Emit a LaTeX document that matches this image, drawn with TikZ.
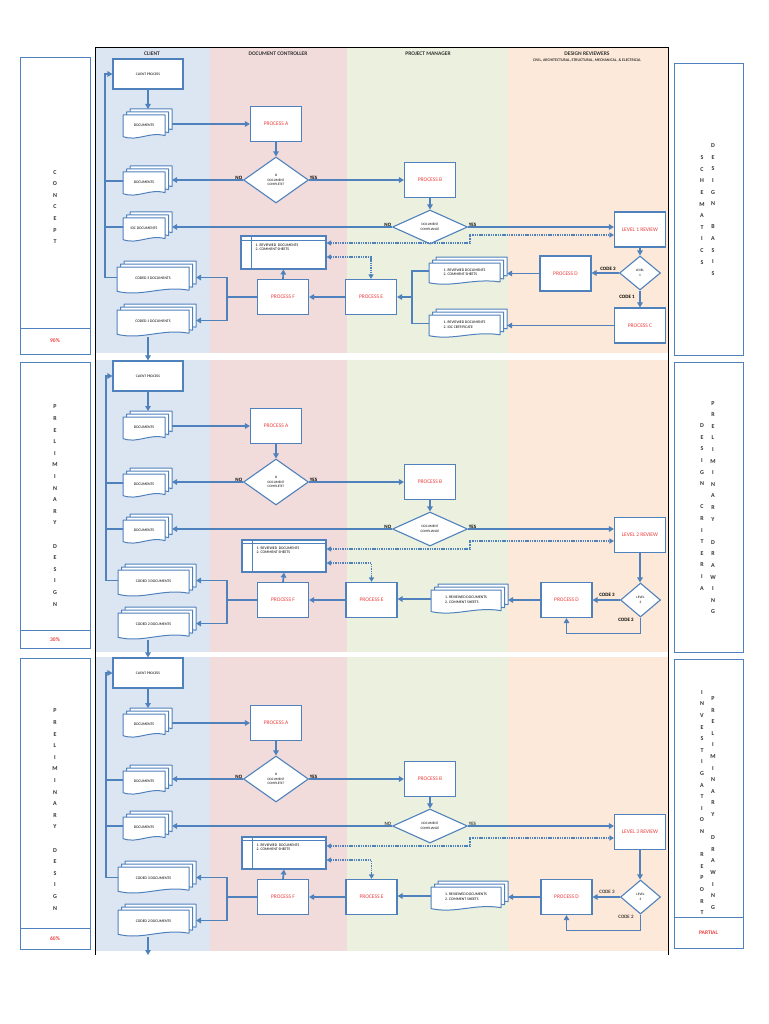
\documentclass[tikz,border=0pt]{standalone}
\usepackage{fontspec}
\setmainfont{Carlito}
\usetikzlibrary{shapes.geometric,arrows.meta}
\definecolor{lblue}{HTML}{4F81BD}
\definecolor{cclient}{HTML}{DCE6F2}
\definecolor{cdc}{HTML}{F2DCDB}
\definecolor{cpm}{HTML}{EBF1DE}
\definecolor{cdr}{HTML}{FDE9D9}
\definecolor{pred}{HTML}{F03C3C}
\definecolor{hgray}{HTML}{333333}

\newcommand\sheetshape[4]{%
  \filldraw[draw=lblue, fill=white, line width=1pt, line join=round]
   (#1,#2) -- ({#1+#3},#2) -- ({#1+#3},{#2+0.86*#4})
   .. controls ({#1+0.62*#3},{#2+0.68*#4}) and ({#1+0.35*#3},{#2+1.12*#4}) ..
   (#1,{#2+0.9*#4}) -- cycle;}
\newcommand\dstack[6]{%
  \sheetshape{#2+7}{#3}{#4}{#5}
  \sheetshape{#2+3.5}{#3+3}{#4}{#5}
  \sheetshape{#2}{#3+6}{#4}{#5}
  \node[inner sep=0, outer sep=0, minimum width={#4+7}, minimum height={#5+6}, anchor=north west] (#1) at (#2,#3) {};
  \node[doctext] (#1t) at ({#2+#4/2},{#3+6+0.42*#5}) {#6};}

\newcommand\upperpart[3]{%
  \node[cbox] (#1cp) at (148,376) {CLIENT PROCESS};
  \dstack{#1d1}{123}{411}{42}{24}{DOCUMENTS}
  \node[pbox] (#1pa) at (276,426) {PROCESS A};
  \node[dia, minimum width=65, minimum height=46] (#1q1) at (276,482) {IS\\DOCUMENT\\COMPLETE?};
  \dstack{#1d2}{123}{468}{42}{24}{DOCUMENTS}
  \node[pbox] (#1pb) at (430,482) {PROCESS B};
  \node[dia, minimum width=75, minimum height=34] (#1q2) at (430,529) {DOCUMENT\\COMPLIANCE};
  \dstack{#1d3}{123}{514}{42}{24}{#2}
  \draw[arr] (#1cp.south) -- (#1cp.south |- #1d1.north);
  \draw[arr] (#1d1.east) -- (#1d1.east -| #1pa.west);
  \draw[arr] (#1pa.south) -- (#1q1.north);
  \draw[arr] (#1q1.west) -- (#1q1.west -| #1d2.east);
  \draw[arr] (#1q1.east) -- (#1pb.west);
  \draw[arr] (#1pb.south) -- (#1q2.north);
  \draw[arr] (#1q2.west) -- (#1q2.west -| #1d3.east);
  \node[lbl, font=\bfseries\fontsize{5}{6}\selectfont, anchor=south east] (#1no1) at (#1q1.west) {NO};
  \node[lbl, font=\bfseries\fontsize{5}{6}\selectfont, anchor=south west] (#1yes1) at (#1q1.east) {YES};
  \node[lbl, font=#3\fontsize{5}{6}\selectfont, anchor=south east] (#1no2) at (#1q2.west) {NO};
  \node[lbl, font=#3\fontsize{5}{6}\selectfont, anchor=south west] (#1yes2) at (#1q2.east) {YES};
}

\newcommand\lowerpart[4]{%
  \node[pbox] (#1rv) at (640,535) {#2};
  \node[shbox, minimum width=84, minimum height=32] (#1sh) at (284,556) {};
  \draw[lblue, line width=0.9pt] ([xshift=11pt]#1sh.north west) -- ([xshift=11pt]#1sh.south west);
  \draw[lblue, line width=0.9pt] ([yshift=-4pt]#1sh.north west) -- ([yshift=-4pt]#1sh.north east);
  \node[doctext, anchor=north west] (#1sht) at ([xshift=15pt,yshift=-7pt]#1sh.north west) {1. REVIEWED\ \ DOCUMENTS\\2. COMMENT SHEETS};
  \node[pbox] (#1pf) at (283,600) {PROCESS F};
  \node[pbox] (#1pe) at (371.5,600) {PROCESS E};
  \dstack{#1rs}{431}{584}{70}{24}{1. REVIEWED DOCUMENTS\\2. COMMENT SHEETS}
  \node[pbox] (#1pd) at (566.5,600) {PROCESS D};
  \node[dia, minimum width=40, minimum height=34] (#1lv) at (640.5,600) {LEVEL\\#3};
  \dstack{#1c3}{118}{564}{71}{27}{CODED 3 DOCUMENTS}
  \dstack{#1c2}{118}{607}{71}{27}{CODED 2 DOCUMENTS}
  \coordinate (#1fb) at (106,0);
  \coordinate (#1jx) at (227,0);
  \coordinate (#1k1) at (470,549);
  \coordinate (#1k2) at (470,541);
  \coordinate (#1k3) at (371.5,563);
  \draw[arr] (#1q2.east) -- (#1q2.east -| #1rv.west);
  \draw[dotarr] (#1k1 -| #1sh.east) -- (#1k1) -- (#1k2) -- (#1k2 -| #1rv.west);
  \draw[dotarr] (#1k3 -| #1sh.east) -- (#1k3) -- (#1pe.north);
  \draw[arr] (#1rv.south) -- (#1rv.south |- #1lv.north);
  \draw[arr] (#1lv.west) -- (#1pd.east);
  \draw[arr] (#1lv.south) -- ++(0,16) -| (#1pd.south);
  \node[lbl, font=#4\fontsize{5}{6}\selectfont] (#1cd3) at (607,595) {CODE 3};
  \node[lbl, font=#4\fontsize{5}{6}\selectfont] (#1cd2) at (626,620) {CODE 2};
  \draw[arr] (#1pd.west) -- (#1pd.west -| #1rs.east);
  \draw[arr] (#1rs.west) -- (#1rs.west -| #1pe.east);
  \draw[arr] (#1pe.west) -- (#1pf.east);
  \draw[arr] (#1pf.north) -- (#1sh.south);
  \draw[ln] (#1pf.west) -- (#1pf.west -| #1jx);
  \draw[arr] (#1pf.west -| #1jx) |- (#1c3.east);
  \draw[arr] (#1pf.west -| #1jx) |- (#1c2.east);
  \draw[arr] (#1c3.west) -- (#1c3.west -| #1fb) |- (#1cp.west);
  \draw[ln] (#1d2.west) -- (#1d2.west -| #1fb);
  \draw[ln] (#1d3.west) -- (#1d3.west -| #1fb);
}

\begin{document}
\begin{tikzpicture}[x=1pt,y=-1pt,
  cbox/.style={draw=lblue, line width=1.1pt, fill=white, minimum width=70, minimum height=30, inner sep=0, font=\fontsize{3.6}{4}\selectfont},
  pbox/.style={draw=lblue, line width=1.1pt, fill=white, minimum width=51, minimum height=35, inner sep=0, text=pred, font=\fontsize{5.5}{6}\selectfont},
  dia/.style={diamond, draw=lblue, line width=1.1pt, fill=white, inner sep=0, align=center, font=\fontsize{3.4}{4.4}\selectfont},
  shbox/.style={draw=lblue, line width=1.1pt, fill=white, inner sep=0},
  lbl/.style={inner sep=0.6pt},
  doctext/.style={font=\fontsize{3.8}{4.8}\selectfont, align=left, inner sep=0},
  arr/.style={draw=lblue, line width=1.7pt, -{Triangle[length=5pt,width=5.5pt]}},
  ln/.style={draw=lblue, line width=1.7pt},
  dotarr/.style={draw=lblue, line width=1.3pt, dash pattern=on 1.4pt off 0.9pt, {Triangle[length=4.5pt,width=5pt]}-{Triangle[length=4.5pt,width=5pt]}},
  side/.style={draw=lblue, line width=1pt, fill=white},
  vlet/.style={align=center, inner sep=0, font=\bfseries\fontsize{6}{11.6}\selectfont, text=hgray},
  pct/.style={inner sep=0, text=pred, font=\bfseries\fontsize{5.5}{6}\selectfont},
  hdr/.style={inner sep=0, text=hgray, font=\bfseries\fontsize{5.5}{6}\selectfont},
  hsub/.style={inner sep=0, text=hgray, font=\bfseries\fontsize{3.9}{4.5}\selectfont}]
\fill[white] (0,0) rectangle (768,1024);
\useasboundingbox (0,0) rectangle (768,1024);

% swimlane backgrounds
\foreach \ya/\yb in {48/353, 360/652, 657/951} {
  \fill[cclient] (95,\ya) rectangle (210,\yb);
  \fill[cdc] (210,\ya) rectangle (347,\yb);
  \fill[cpm] (347,\ya) rectangle (508,\yb);
  \fill[cdr] (508,\ya) rectangle (668,\yb);
}
\draw[black, line width=1pt] (95,955) -- (95,47.5) -- (668,47.5) -- (668,955);

% headers
\node[hdr] (hc) at (152,53.5) {CLIENT};
\node[hdr] (hd) at (278,53.5) {DOCUMENT CONTROLLER};
\node[hdr] (hp) at (428,53.5) {PROJECT MANAGER};
\node[hdr] (hr) at (587,53.5) {DESIGN REVIEWERS};
\node[hsub] (hs) at (587,60.5) {CIVIL, ARCHITECTURAL, STRUCTURAL, MECHANICAL, \& ELECTRICAL};

% side panels left
\draw[side] (20,58) rectangle (90,354); \draw[lblue, line width=1pt] (20,328) -- (90,328);
\draw[side] (20,362) rectangle (90,648); \draw[lblue, line width=1pt] (20,630) -- (90,630);
\draw[side] (20,658) rectangle (90,949); \draw[lblue, line width=1pt] (20,928) -- (90,928);
\node[vlet] (sl1) at (55,207) {C\\O\\N\\C\\E\\P\\T};
\node[vlet] (sl2) at (55,505.5) {P\\R\\E\\L\\I\\M\\I\\N\\A\\R\\Y\\~\\D\\E\\S\\I\\G\\N};
\node[vlet] (sl3) at (55,809.5) {P\\R\\E\\L\\I\\M\\I\\N\\A\\R\\Y\\~\\D\\E\\S\\I\\G\\N};
\node[pct] (p1) at (55,341) {90\%};
\node[pct] (p2) at (55,640) {30\%};
\node[pct] (p3) at (55,939) {60\%};

% side panels right
\draw[side] (674,64) rectangle (743,355);
\draw[side] (674,362) rectangle (743,652);
\draw[side] (674,659) rectangle (743,948); \draw[lblue, line width=1pt] (674,917) -- (743,917);
\node[vlet] (sr1a) at (702,210) {S\\C\\H\\E\\M\\A\\T\\I\\C\\S};
\node[vlet] (sr1b) at (713,209.5) {D\\E\\S\\I\\G\\N\\~\\B\\A\\S\\I\\S};
\node[vlet] (sr2a) at (702,507) {D\\E\\S\\I\\G\\N\\~\\C\\R\\I\\T\\E\\R\\I\\A};
\node[vlet] (sr2b) at (713,507.5) {P\\R\\E\\L\\I\\M\\I\\N\\A\\R\\Y\\~\\D\\R\\A\\W\\I\\N\\G};
\node[vlet] (sr3a) at (702,802.5) {I\\N\\V\\E\\S\\T\\I\\G\\A\\T\\I\\O\\N\\~\\R\\E\\P\\O\\R\\T};
\node[vlet] (sr3b) at (713,803) {P\\R\\E\\L\\I\\M\\I\\N\\A\\R\\Y\\~\\D\\R\\A\\W\\I\\N\\G};
\node[pct] (p4) at (708.5,933) {PARTIAL};

% ---------- band 1 ----------
\begin{scope}[shift={(0,-302)}]
  \upperpart{a}{IDC DOCUMENTS}{\bfseries}
\end{scope}
\node[pbox] (arv) at (640,229.5) {LEVEL 1 REVIEW};
\node[shbox, minimum width=85, minimum height=33] (ash) at (283.5,252.5) {};
\draw[lblue, line width=0.9pt] ([xshift=11pt]ash.north west) -- ([xshift=11pt]ash.south west);
\draw[lblue, line width=0.9pt] ([yshift=-5pt]ash.north west) -- ([yshift=-5pt]ash.north east);
\node[doctext, anchor=north west] (asht) at ([xshift=15pt,yshift=-8pt]ash.north west) {1. REVIEWED\ \ DOCUMENTS\\2. COMMENT SHEETS};
\node[pbox] (apf) at (283,297) {PROCESS F};
\node[pbox] (ape) at (371,297) {PROCESS E};
\node[pbox] (apd) at (565.5,273.5) {PROCESS D};
\node[dia, minimum width=41, minimum height=34] (alv) at (640,273) {LEVEL\\1};
\node[pbox] (apc) at (640,325.5) {PROCESS C};
\dstack{ars}{429}{257}{71}{22}{1. REVIEWED DOCUMENTS\\2. COMMENT SHEETS}
\dstack{ars2}{429}{309}{71}{23}{1. REVIEWED DOCUMENTS\\2. IDC CERTIFICATE}
\dstack{ac3}{117}{261}{72}{27}{CODED 3 DOCUMENTS}
\dstack{ac1}{117}{304}{72}{27}{CODED 1 DOCUMENTS}
\coordinate (afb) at (105,0);
\coordinate (ajx) at (227,0);
\coordinate (ajr) at (412,297);
\coordinate (ak1) at (470,243);
\coordinate (ak2) at (470,235);
\coordinate (ak3) at (371,257);
\draw[arr] (aq2.east) -- (aq2.east -| arv.west);
\draw[dotarr] (ak1 -| ash.east) -- (ak1) -- (ak2) -- (ak2 -| arv.west);
\draw[dotarr] (ak3 -| ash.east) -- (ak3) -- (ape.north);
\draw[arr] (arv.south) -- (alv.north);
\draw[arr] (alv.west) -- (alv.west -| apd.east);
\node[lbl, font=\bfseries\fontsize{5}{6}\selectfont] (acd3) at (608,268.5) {CODE 3};
\draw[arr] (alv.south) -- (apc.north);
\node[lbl, font=\bfseries\fontsize{5}{6}\selectfont] (acd1) at (627,297) {CODE 1};
\draw[arr] (apd.west) -- (apd.west -| ars.east);
\draw[arr] (apc.west) -- (apc.west -| ars2.east);
\draw[ln] (ars.west) -| (ajr);
\draw[ln] (ars2.west) -| (ajr);
\draw[arr] (ajr) -- (ape.east);
\draw[arr] (ape.west) -- (apf.east);
\draw[arr] (apf.north) -- (ash.south);
\draw[ln] (apf.west) -- (apf.west -| ajx);
\draw[arr] (apf.west -| ajx) |- (ac3.east);
\draw[arr] (apf.west -| ajx) |- (ac1.east);
\draw[arr] (ac3.west) -- (ac3.west -| afb) |- (acp.west);
\draw[ln] (ad2.west) -- (ad2.west -| afb);
\draw[ln] (ad3.west) -- (ad3.west -| afb);

% ---------- band 2 ----------
\upperpart{b}{DOCUMENTS}{\bfseries}
\lowerpart{b}{LEVEL 2 REVIEW}{2}{\bfseries}

% ---------- band 3 ----------
\begin{scope}[shift={(0,297)}]
  \upperpart{c}{DOCUMENTS}{}
  \lowerpart{c}{LEVEL 3 REVIEW}{3}{}
  \coordinate (cend) at (148,658);
\end{scope}

% links between bands
\draw[arr] (ac1.south -| acp.south) -- (bcp.north);
\draw[arr] (bc2.south -| bcp.south) -- (ccp.north);
\draw[arr] (cc2.south -| ccp.south) -- (cend);
\end{tikzpicture}
\end{document}
